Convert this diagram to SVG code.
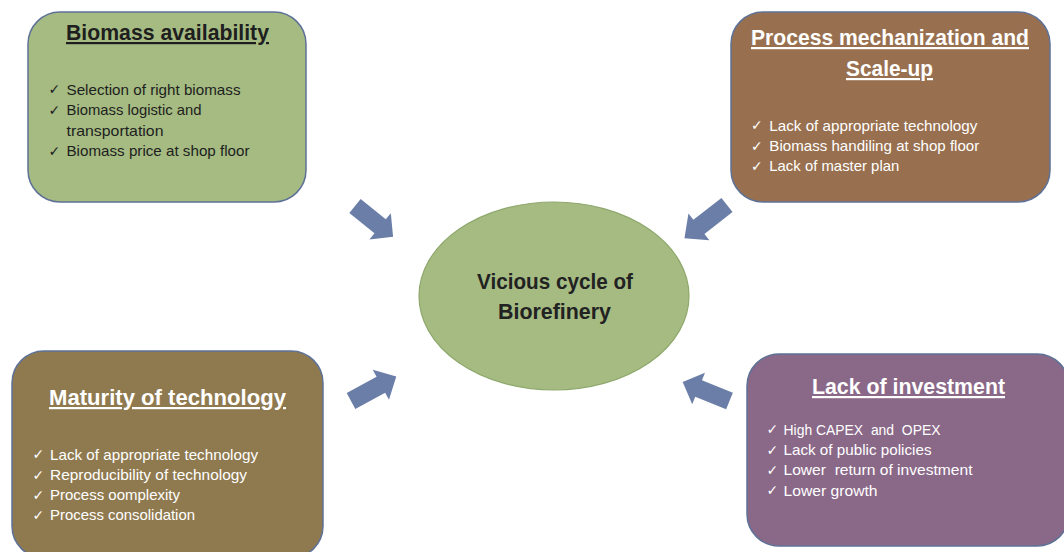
<svg xmlns="http://www.w3.org/2000/svg" width="1064" height="552" viewBox="0 0 1064 552">
<defs>
<style>
.box{stroke:#5E7196;stroke-width:1.5}
.title{font-family:"Liberation Sans",Arial,sans-serif;font-weight:bold;font-size:22px;text-anchor:middle;text-decoration:underline}
.ctr{font-family:"Liberation Sans",Arial,sans-serif;font-weight:bold;font-size:22px;text-anchor:middle;fill:#222222}
.item{font-family:"Liberation Sans",Arial,sans-serif;font-size:14.5px;white-space:pre}
.chk{font-family:"DejaVu Sans",sans-serif;font-size:14px}
.dark{fill:#1E1E1E}
.light{fill:#FFFFFF}
.arrow{fill:#6A7EA8}
</style>
<polygon id="blk" points="0,-9 33,-9 33,-17 50,0 33,17 33,9 0,9"/>
</defs>
<rect width="1064" height="552" fill="#FFFFFF"/>

<g id="connectors">
<use href="#blk" class="arrow" transform="translate(355,206) rotate(39) scale(0.98,1)"/>
<use href="#blk" class="arrow" transform="translate(727,205) rotate(142) scale(1.08,1)"/>
<use href="#blk" class="arrow" transform="translate(351,401) rotate(-28.5) scale(1.03,1)"/>
<use href="#blk" class="arrow" transform="translate(729.5,401) rotate(202) scale(1.01,1)"/>
</g>

<g id="center">
<ellipse cx="554" cy="296" rx="135" ry="94" fill="#A5BB82" stroke="#8EA86C" stroke-width="1.2"/>
<text class="ctr" x="555" y="289" textLength="156" lengthAdjust="spacingAndGlyphs">Vicious cycle of</text>
<text class="ctr" x="554.5" y="319" textLength="113" lengthAdjust="spacingAndGlyphs">Biorefinery</text>
</g>

<g id="biomass">
<rect class="box" x="28" y="12" width="278" height="190" rx="32" fill="#A5BB82"/>
<text class="title dark" x="167.5" y="40" textLength="203" lengthAdjust="spacingAndGlyphs">Biomass availability</text>
<g class="dark">
<text class="chk" x="48.5" y="94">✓</text>
<text class="item" x="66.5" y="94.5" textLength="174" lengthAdjust="spacingAndGlyphs">Selection of right biomass</text>
<text class="chk" x="48.5" y="114.5">✓</text>
<text class="item" x="66.5" y="115" textLength="135" lengthAdjust="spacingAndGlyphs">Biomass logistic and</text>
<text class="item" x="66.5" y="135.5" textLength="97" lengthAdjust="spacingAndGlyphs">transportation</text>
<text class="chk" x="48.5" y="155.5">✓</text>
<text class="item" x="66.5" y="156" textLength="183" lengthAdjust="spacingAndGlyphs">Biomass price at shop floor</text>
</g>
</g>

<g id="mechanization">
<rect class="box" x="731" y="12" width="319" height="190" rx="32" fill="#98704F"/>
<text class="title light" x="890" y="45" textLength="278" lengthAdjust="spacingAndGlyphs">Process mechanization and</text>
<text class="title light" x="889.5" y="76" textLength="87" lengthAdjust="spacingAndGlyphs">Scale-up</text>
<g class="light">
<text class="chk" x="751" y="130">✓</text>
<text class="item" x="769.3" y="130.5" textLength="208" lengthAdjust="spacingAndGlyphs">Lack of appropriate technology</text>
<text class="chk" x="751" y="150.5">✓</text>
<text class="item" x="769.3" y="151" textLength="210" lengthAdjust="spacingAndGlyphs">Biomass handiling at shop floor</text>
<text class="chk" x="751" y="170.5">✓</text>
<text class="item" x="769.3" y="171" textLength="130" lengthAdjust="spacingAndGlyphs">Lack of master plan</text>
</g>
</g>

<g id="maturity">
<rect class="box" x="12" y="351" width="311" height="207" rx="32" fill="#8F7A50"/>
<text class="title light" x="167.5" y="405" textLength="237" lengthAdjust="spacingAndGlyphs">Maturity of technology</text>
<g class="light">
<text class="chk" x="32.5" y="459">✓</text>
<text class="item" x="50" y="459.5" textLength="208" lengthAdjust="spacingAndGlyphs">Lack of appropriate technology</text>
<text class="chk" x="32.5" y="479.5">✓</text>
<text class="item" x="50" y="480" textLength="197" lengthAdjust="spacingAndGlyphs">Reproducibility of technology</text>
<text class="chk" x="32.5" y="499.5">✓</text>
<text class="item" x="50" y="500" textLength="130" lengthAdjust="spacingAndGlyphs">Process oomplexity</text>
<text class="chk" x="32.5" y="519.5">✓</text>
<text class="item" x="50" y="520" textLength="145" lengthAdjust="spacingAndGlyphs">Process consolidation</text>
</g>
</g>

<g id="investment">
<rect class="box" x="747" y="354" width="322" height="192" rx="32" fill="#8A6888"/>
<text class="title light" x="908.5" y="394" textLength="193" lengthAdjust="spacingAndGlyphs">Lack of investment</text>
<g class="light">
<text class="chk" x="766.5" y="434">✓</text>
<text class="item" x="783.5" y="434.5" textLength="157" lengthAdjust="spacingAndGlyphs">High CAPEX  and  OPEX</text>
<text class="chk" x="766.5" y="454.5">✓</text>
<text class="item" x="783.5" y="455" textLength="148" lengthAdjust="spacingAndGlyphs">Lack of public policies</text>
<text class="chk" x="766.5" y="474.5">✓</text>
<text class="item" x="783.5" y="475" textLength="189" lengthAdjust="spacingAndGlyphs">Lower  return of investment</text>
<text class="chk" x="766.5" y="495">✓</text>
<text class="item" x="783.5" y="495.5" textLength="94" lengthAdjust="spacingAndGlyphs">Lower growth</text>
</g>
</g>
</svg>
